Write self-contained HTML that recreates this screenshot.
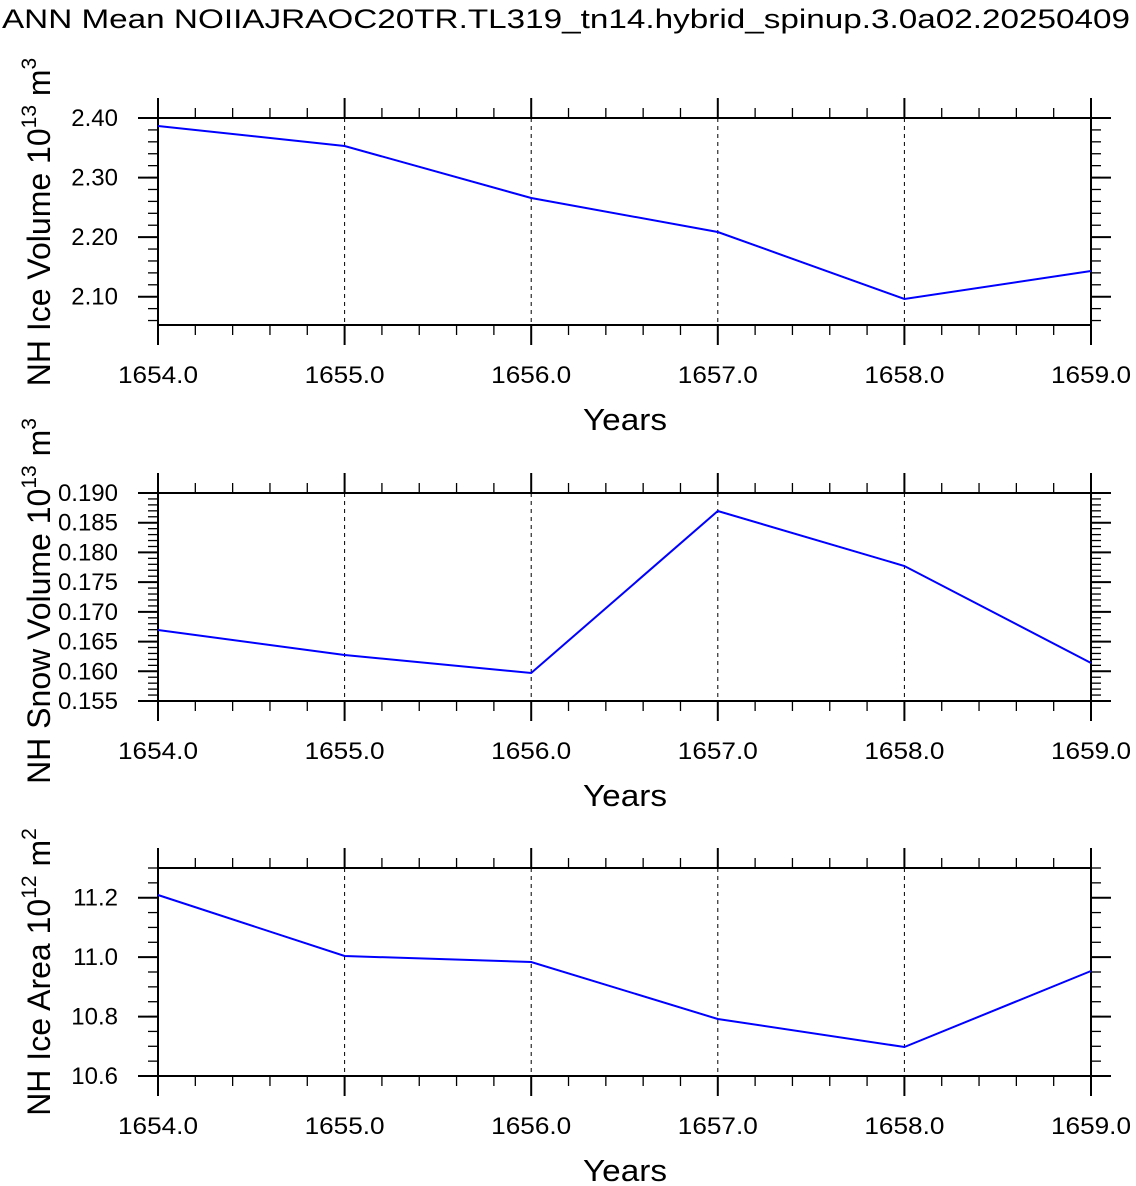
<!DOCTYPE html>
<html><head><meta charset="utf-8"><style>
html,body{margin:0;padding:0;background:#fff;}
svg{display:block;font-family:"Liberation Sans",Arial,sans-serif;}
</style></head><body>
<svg id="s" width="1136" height="1186" xmlns="http://www.w3.org/2000/svg">
<text x="2" y="28" font-size="27" textLength="1128" lengthAdjust="spacingAndGlyphs">ANN Mean NOIIAJRAOC20TR.TL319_tn14.hybrid_spinup.3.0a02.20250409</text>
</svg>
<script>
const s=document.getElementById('s');
function el(t,a,txt){const e=document.createElementNS('http://www.w3.org/2000/svg',t);for(const k in a)e.setAttribute(k,a[k]);if(txt!==undefined)e.textContent=txt;s.appendChild(e);return e;}
const X0=158,X1=1091,px=(X1-X0)/5;
const panels=[
 {top:118,bot:325,vmin:2.0525,vmax:2.40,maj:[2.10,2.20,2.30,2.40],dec:2,minStep:0.02,minStart:2.06,minEnd:2.40,
  ys:[126,146,198,232,299,271],title:["NH Ice Volume 10","13"," m","3"],cy:222},
 {top:493,bot:701,vmin:0.155,vmax:0.190,maj:[0.155,0.160,0.165,0.170,0.175,0.180,0.185,0.190],dec:3,minStep:0.001,minStart:0.155,minEnd:0.190,
  ys:[630,655,673,511,566,663],title:["NH Snow Volume 10","13"," m","3"],cy:601},
 {top:868,bot:1076,vmin:10.6,vmax:11.3,maj:[10.6,10.8,11.0,11.2],dec:1,minStep:0.05,minStart:10.6,minEnd:11.3,
  ys:[895,956,962,1019,1047,971],title:["NH Ice Area 10","12"," m","2"],cy:972}
];
panels.forEach(p=>{
 const Y=v=>p.bot-(v-p.vmin)/(p.vmax-p.vmin)*(p.bot-p.top);
 for(let i=1;i<5;i++){const x=X0+i*px;el('line',{x1:x,y1:p.top,x2:x,y2:p.bot,stroke:'#000','stroke-width':1,'stroke-dasharray':'4,4'});}
 for(let i=0;i<=25;i++){const x=X0+i*px/5;const L=(i%5==0)?20:10;
  el('line',{x1:x,y1:p.top,x2:x,y2:p.top-L,stroke:'#000','stroke-width':i%5==0?2:1.3});
  el('line',{x1:x,y1:p.bot,x2:x,y2:p.bot+L,stroke:'#000','stroke-width':i%5==0?2:1.3});}
 for(let v=p.minStart;v<=p.minEnd+1e-9;v+=p.minStep){const y=Y(v);
  el('line',{x1:X0,y1:y,x2:X0-10,y2:y,stroke:'#000','stroke-width':1.3});
  el('line',{x1:X1,y1:y,x2:X1+10,y2:y,stroke:'#000','stroke-width':1.3});}
 p.maj.forEach(v=>{const y=Y(v);
  el('line',{x1:X0,y1:y,x2:X0-20,y2:y,stroke:'#000','stroke-width':2});
  el('line',{x1:X1,y1:y,x2:X1+20,y2:y,stroke:'#000','stroke-width':2});
  el('text',{x:118,y:y+8,'font-size':24,'text-anchor':'end'},v.toFixed(p.dec));});
 el('rect',{x:X0,y:p.top,width:X1-X0,height:p.bot-p.top,fill:'none',stroke:'#000','stroke-width':2});
 for(let i=0;i<=5;i++){el('text',{x:X0+i*px-40,y:p.bot+58,'font-size':24,textLength:80,lengthAdjust:'spacingAndGlyphs'},(1654+i)+'.0');}
 el('text',{x:583,y:p.bot+105,'font-size':31,textLength:84,lengthAdjust:'spacingAndGlyphs'},'Years');
 el('polyline',{points:p.ys.map((y,i)=>(X0+i*px)+','+y).join(' '),fill:'none',stroke:'#0000ff','stroke-width':2});
 const t=el('text',{transform:`translate(50,${p.cy}) rotate(-90)`,'font-size':32,'text-anchor':'middle'});
 const mk=(txt,dy,fs)=>{const a=document.createElementNS('http://www.w3.org/2000/svg','tspan');a.textContent=txt;if(dy)a.setAttribute('dy',dy);if(fs)a.setAttribute('font-size',fs);t.appendChild(a);};
 mk(p.title[0]);mk(p.title[1],'-14','21');mk(p.title[2],'14');mk(p.title[3],'-14','21');
});
</script>
</body></html>
